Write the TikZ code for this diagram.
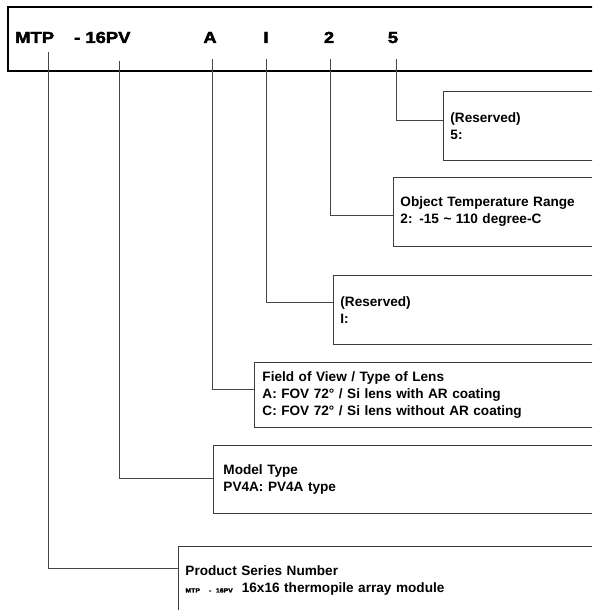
\documentclass[tikz,border=0pt]{standalone}
\usepackage{fontspec}
\usepackage{tikz}
\usetikzlibrary{positioning, calc}
\newfontfamily\infofont{Liberation Sans Bold}
\newfontfamily\codefont{Liberation Sans Bold}[FakeBold=2.5, FakeStretch=1.15]
\definecolor{leadgray}{RGB}{70, 70, 70}
\definecolor{boxgray}{RGB}{60, 60, 60}
\tikzstyle{codebar} = [draw=black, line width=1.3pt]
\tikzstyle{code} = [inner sep=0pt, anchor=base, font=\codefont\fontsize{16}{18}\selectfont]
\tikzstyle{info} = [rectangle, anchor=north west, draw=boxgray, line width=0.9pt, text width=420pt, align=left, inner xsep=7pt, inner ysep=0pt, font=\infofont\fontsize{13.6}{17}\selectfont]
\tikzstyle{lead} = [draw=leadgray, line width=0.9pt]

\begin{document}
\begin{tikzpicture}[x=1pt, y=-1pt]
    \useasboundingbox (0,0) rectangle (592,610);
    \clip (0,0) rectangle (592,610);

    % Part number bar
    \draw[codebar] (8,7) rectangle (620,71);
    \node[code, anchor=base west] (mtp) at (15,43) {MTP};
    \node[code, anchor=base west] (model) at (74,43) {- 16PV};
    \node[code] (lens) at (210,43) {A};
    \node[code] (resI) at (266,43) {I};
    \node[code] (temp) at (329,43) {2};
    \node[code] (res5) at (393,43) {5};

    % Description boxes
    \node[info, minimum height=69pt] (b5) at (443,91) {(Reserved)\\ 5:};
    \node[info, minimum height=69pt] (btemp) at (393,177) {Object Temperature Range\\ 2: -15 \textasciitilde{} 110 degree-C};
    \node[info, minimum height=69pt] (bI) at (333,275) {(Reserved)\\ I:};
    \node[info, minimum height=65pt, inner xsep=8pt] (blens) at (254,362) {
        Field of View / Type of Lens\\
        A: FOV 72° / Si lens with AR coating\\
        C: FOV 72° / Si lens without AR coating
    };
    \node[info, minimum height=68pt, inner xsep=10pt] (bmodel) at (213,445) {Model Type\\ PV4A: PV4A type};
    \node[info, minimum height=68pt] (bmtp) at (178,546) {
        Product Series Number\\
        {\codefont\fontsize{6}{7}\selectfont MTP\ \ - 16PV}\ \ 16x16 thermopile array module
    };

    % Leader lines
    \draw[lead] ([xshift=3pt, yshift=-16pt]res5.south) |- ([yshift=-29pt]b5.north west);
    \draw[lead] ([xshift=1pt, yshift=-16pt]temp.south) |- ([yshift=-38pt]btemp.north west);
    \draw[lead] ([yshift=-16pt]resI.south) |- ([yshift=-27pt]bI.north west);
    \draw[lead] ([xshift=2pt, yshift=-16pt]lens.south) |- ([yshift=-27pt]blens.north west);
    \draw[lead] ([xshift=-11pt, yshift=-18pt]model.south east) |- ([yshift=-33pt]bmodel.north west);
    \draw[lead] ([xshift=-6pt, yshift=-9pt]mtp.south east) |- ([yshift=-22pt]bmtp.north west);
\end{tikzpicture}
\end{document}
